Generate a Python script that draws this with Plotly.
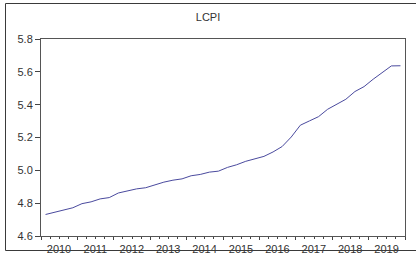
import plotly.graph_objects as go

# Quarterly observations 2010Q1..2019Q4 (plotted at mid-quarter)
years = list(range(2010, 2020))
quarters = [1, 2, 3, 4]
lcpi = [
    4.731, 4.745, 4.762, 4.772,
    4.797, 4.808, 4.826, 4.834,
    4.862, 4.876, 4.887, 4.894,
    4.913, 4.928, 4.940, 4.948,
    4.967, 4.975, 4.989, 4.995,
    5.018, 5.034, 5.055, 5.068,
    5.085, 5.112, 5.145, 5.203,
    5.275, 5.301, 5.327, 5.372,
    5.403, 5.433, 5.480, 5.510,
    5.555, 5.596, 5.636, 5.637,
]
year_labels = [str(y) for y in years]
y_ticks = [4.6, 4.8, 5.0, 5.2, 5.4, 5.6, 5.8]

x_vals = [y + (q - 0.5) / 4 for y in years for q in quarters]

W, H = 416, 257
FL, FT, FB = 5, 3, 251
PL, PR, PT, PB = 41, 405, 39, 236   # plot area in pixels
paper_w = W - FL
paper_h = FB - FT

fig = go.Figure()
fig.add_trace(go.Scatter(
    x=x_vals, y=lcpi, mode="lines",
    line=dict(color="#4a4a9e", width=1),
    hoverinfo="skip", showlegend=False,
))

font_family = "Liberation Sans, Arial, sans-serif"
fig.update_layout(
    width=W, height=H,
    margin=dict(l=FL, r=0, t=FT, b=H - FB, pad=0, autoexpand=False),
    paper_bgcolor="white", plot_bgcolor="rgba(0,0,0,0)",
    title=dict(text="LCPI", x=0.5, xref="container", y=1 - 17 / H, yanchor="middle",
               xanchor="center", automargin=False,
               font=dict(family=font_family, size=11, color="#333333")),
    showlegend=False,
)
fig.update_layout(
    xaxis=dict(
        domain=[(PL - FL) / paper_w, (PR - FL) / paper_w],
        range=[2010, 2020], automargin=False,
        tickmode="array",
        tickvals=years + [2020],
        ticktext=year_labels + [""],
        ticks="outside", ticklen=3, tickwidth=1, tickcolor="#444444",
        ticklabelshift=18,
        ticklabelstandoff=0,
        minor=dict(tick0=2010, dtick=0.25, ticks="outside", ticklen=2,
                   tickcolor="#444444", showgrid=False),
        showline=True, linecolor="#555555", linewidth=1, mirror=True,
        showgrid=False, zeroline=False,
        tickfont=dict(family=font_family, size=11, color="#333333"),
    ),
    yaxis=dict(
        domain=[(FB - PB) / paper_h, (FB - PT) / paper_h],
        range=[4.6, 5.8], automargin=False,
        tickmode="array", tickvals=y_ticks,
        ticktext=[f"{v:.1f}" for v in y_ticks],
        ticks="outside", ticklen=5, tickcolor="#444444",
        showline=True, linecolor="#555555", linewidth=1, mirror=True,
        showgrid=False, zeroline=False,
        tickfont=dict(family=font_family, size=11, color="#333333"),
    ),
)
# outer frame (right side runs off the picture, as in the reference)
fig.add_shape(type="rect", xref="paper", yref="paper",
              x0=0.5 / paper_w, x1=1.05,
              y0=0.5 / paper_h, y1=1 - 0.5 / paper_h,
              line=dict(color="#3a3a3a", width=1), fillcolor="rgba(0,0,0,0)",
              layer="above")

fig.write_html("out.html", config={"displayModeBar": False, "staticPlot": True},
               post_script="document.body.style.margin='0px';document.body.style.overflow='hidden';")
